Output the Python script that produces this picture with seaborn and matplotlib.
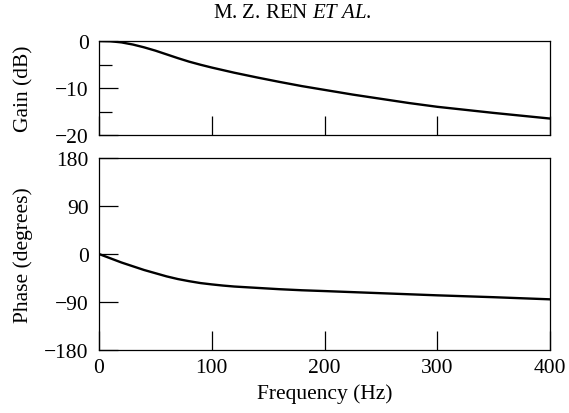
import matplotlib
matplotlib.use("Agg")
import matplotlib.pyplot as plt
import seaborn as sns
import pandas as pd
from matplotlib.ticker import MultipleLocator

sns.set_theme(style="white")
plt.rcParams['font.family'] = ['Liberation Serif', 'DejaVu Serif']
plt.rcParams['mathtext.fontset'] = 'custom'
plt.rcParams['mathtext.rm'] = 'Liberation Serif'
plt.rcParams['mathtext.it'] = 'Liberation Serif:italic'

freq = [0, 10, 20, 30, 40, 50, 60, 70, 80, 90, 100, 110, 120, 140, 160, 180, 200, 225, 250,
        275, 300, 350, 400]
gain_db = [0, -0.05, -0.3, -0.75, -1.35, -2.05, -2.85, -3.65, -4.4, -5.05, -5.65, -6.2, -6.75,
           -7.75, -8.7, -9.6, -10.4, -11.4, -12.3, -13.2, -14.0, -15.3, -16.5]
phase_deg = [0, -8, -16, -23, -30, -36, -42, -47, -51, -54.5, -57, -59.2, -61, -63.5, -66, -68,
             -69.5, -71.5, -73.5, -75.5, -77.5, -81, -85]

df = pd.DataFrame({"freq": freq, "gain": gain_db, "phase": phase_deg})

fig = plt.figure(figsize=(5.69, 4.14), dpi=100)
W, H = 569, 414
ax1 = fig.add_axes([99 / W, 1 - 136 / H, 451 / W, 94 / H])
ax2 = fig.add_axes([99 / W, 1 - 351 / H, 451 / W, 192 / H])

sns.lineplot(data=df, x="freq", y="gain", ax=ax1, color="black", linewidth=1.7)
sns.lineplot(data=df, x="freq", y="phase", ax=ax2, color="black", linewidth=1.7)

fs = 15.5
for ax in (ax1, ax2):
    ax.set_xlim(0, 400)
    for s in ax.spines.values():
        s.set_color("black")
        s.set_linewidth(0.9)
    ax.xaxis.set_major_locator(MultipleLocator(100))
    ax.tick_params(axis="both", which="both", bottom=True, left=True, top=False, right=False)
    ax.tick_params(axis="both", which="major", direction="in", length=14, width=0.9,
                   color="black", labelsize=fs, labelcolor="black")
    ax.tick_params(axis="both", which="minor", direction="in", length=9, width=0.9,
                   color="black")
    ax.tick_params(axis="y", pad=7.5)
    ax.tick_params(axis="x", pad=6)

ax1.set_ylim(-20, 0)
ax1.yaxis.set_major_locator(MultipleLocator(10))
ax1.yaxis.set_minor_locator(MultipleLocator(5))
ax1.tick_params(axis="x", labelbottom=False)
ax1.set_xlabel("")
ax1.set_ylabel("Gain (dB)", fontsize=fs, color="black")

ax2.set_ylim(-180, 180)
ax2.yaxis.set_major_locator(MultipleLocator(90))
ax2.set_xlabel("Frequency (Hz)", fontsize=fs, color="black", labelpad=4)
ax2.set_ylabel("Phase (degrees)", fontsize=fs, color="black")

ax1.yaxis.set_label_coords(-0.146, 0.5)
ax2.yaxis.set_label_coords(-0.146, 0.5)

fig.text(292 / W, 1 - 13 / H, r"M. Z. REN $\mathit{ET\ AL}$.", ha="center", va="center",
         fontsize=15, color="black")

fig.savefig("out.png", dpi=100)
